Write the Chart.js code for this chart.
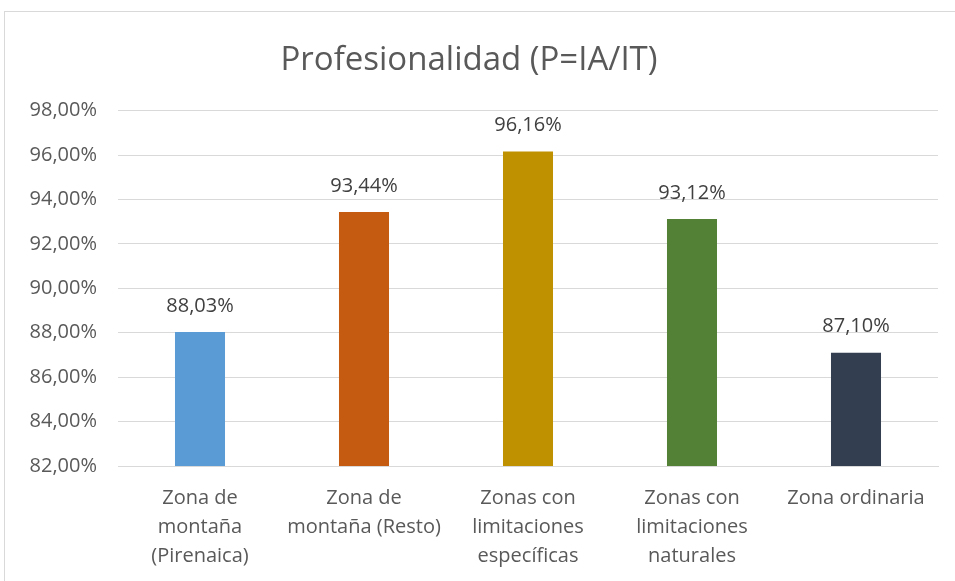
<!DOCTYPE html>
<html>
<head>
<meta charset="utf-8">
<script src="https://cdn.jsdelivr.net/npm/chart.js@4"></script>
<style>
    body { margin: 0; background: #fff; }
    #frame {
        position: absolute; left: 4px; top: 11px; width: 960px; height: 600px;
        border: 1px solid #d9d9d9; box-sizing: border-box;
    }
    #wrap { position: absolute; left: 0; top: 0; width: 955px; height: 581px; }
</style>
</head>
<body>
<div id="frame"></div>
<div id="wrap"><canvas id="chart"></canvas></div>
<script>
const categories = [
    ['Zona de', 'montaña', '(Pirenaica)'],
    ['Zona de', 'montaña (Resto)'],
    ['Zonas con', 'limitaciones', 'específicas'],
    ['Zonas con', 'limitaciones', 'naturales'],
    ['Zona ordinaria']
];
const values = [88.03, 93.44, 96.16, 93.12, 87.10];
const barColors = ['#5b9bd5', '#c55a11', '#bf9000', '#538135', '#333f50'];
const yMin = 82;
const yMax = 98;
const yStep = 2;

const fontFamily = '"Open Sans", sans-serif';

function pct(v) {
    return v.toFixed(2).replace('.', ',') + '%';
}

// Labels above each bar
const valueLabels = {
    id: 'valueLabels',
    afterDatasetsDraw(chart) {
        const ctx = chart.ctx;
        const meta = chart.getDatasetMeta(0);
        ctx.save();
        ctx.font = '20px ' + fontFamily;
        ctx.fillStyle = '#404040';
        ctx.textAlign = 'center';
        ctx.textBaseline = 'middle';
        meta.data.forEach((bar, i) => {
            ctx.fillText(pct(values[i]), bar.x, bar.y - 26);
        });
        ctx.restore();
    }
};

const ctx = document.getElementById('chart').getContext('2d');
new Chart(ctx, {
    type: 'bar',
    data: {
        labels: categories,
        datasets: [{
            data: values,
            backgroundColor: barColors,
            barPercentage: 0.5,
            categoryPercentage: 0.61
        }]
    },
    options: {
        responsive: true,
        maintainAspectRatio: false,
        animation: false,
        layout: { padding: { left: 0, right: 17, top: 41, bottom: 10 } },
        plugins: {
            legend: { display: false },
            tooltip: { enabled: false },
            title: {
                display: true,
                text: 'Profesionalidad (P=IA/IT)',
                color: '#595959',
                font: { family: fontFamily, size: 33, weight: 'normal' },
                padding: { top: 0, bottom: 30 }
            }
        },
        scales: {
            x: {
                afterFit(scale) { scale.height = 105; },
                grid: { display: false },
                border: { display: true, color: '#d9d9d9' },
                ticks: {
                    color: '#595959',
                    font: { family: fontFamily, size: 20, lineHeight: 1.45 },
                    padding: 10,
                    maxRotation: 0,
                    autoSkip: false
                }
            },
            y: {
                min: yMin,
                max: yMax,
                afterFit(scale) { scale.width = 118; },
                grid: { color: '#d9d9d9', drawTicks: false },
                border: { display: false },
                ticks: {
                    stepSize: yStep,
                    color: '#595959',
                    font: { family: fontFamily, size: 20 },
                    padding: 21,
                    callback: v => pct(v)
                }
            }
        }
    },
    plugins: [valueLabels]
});
</script>
</body>
</html>
